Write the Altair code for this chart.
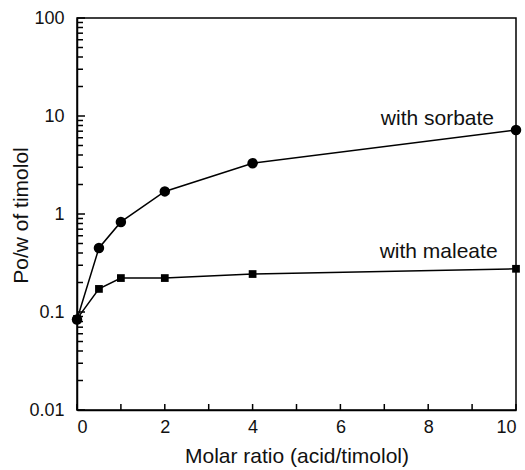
import altair as alt
import pandas as pd
import math

# Data
ratio = [0, 0.5, 1, 2, 4, 10]
sorbate = [0.084, 0.45, 0.83, 1.7, 3.3, 7.2]
maleate = [0.085, 0.172, 0.222, 0.222, 0.244, 0.276]

x_tick_labels = [0, 2, 4, 6, 8, 10]
y_tick_labels = [0.01, 0.1, 1, 10, 100]
x_minor = list(range(0, 11))
y_minor = [m * d for d in [0.01, 0.1, 1, 10] for m in range(1, 10)] + [100]

ann_text = ["with sorbate", "with maleate"]
ann_x = [9.5, 9.58]
ann_y = [9.3, 0.41]

W, H = 439, 392
FONT = "Liberation Sans"
TXT = "#111"

df_s = pd.DataFrame({"x": ratio, "y": sorbate})
df_m = pd.DataFrame({"x": ratio, "y": maleate})

xs = alt.Scale(domain=[0, 10], nice=False, zero=False)
ys = alt.Scale(type="log", domain=[0.01, 100], nice=False)

x_axis = alt.Axis(values=x_tick_labels, ticks=False, grid=False, domainColor="black",
                  domainWidth=1.5, labelFont=FONT, labelFontSize=18, labelColor=TXT,
                  labelPadding=8, title="Molar ratio (acid/timolol)", titleFont=FONT,
                  titleFontSize=21, titleFontWeight="normal", titleColor=TXT,
                  titlePadding=9)
y_axis = alt.Axis(values=y_tick_labels, format="~g", ticks=False, grid=False,
                  domainColor="black", domainWidth=1.5, labelFont=FONT, labelFontSize=18,
                  labelColor=TXT, labelPadding=13, title="Po/w of timolol",
                  titleFont=FONT, titleFontSize=21, titleFontWeight="normal",
                  titleColor=TXT, titleX=-46, titleY=H / 2 + 1)

X = alt.X("x:Q", scale=xs, axis=x_axis)
Y = alt.Y("y:Q", scale=ys, axis=y_axis)

line_s = alt.Chart(df_s).mark_line(color="black", strokeWidth=1.5).encode(x=X, y=Y)
pts_s = alt.Chart(df_s).mark_point(shape="circle", filled=True, color="black",
                                   opacity=1, size=110).encode(x=X, y=Y)
line_m = alt.Chart(df_m).mark_line(color="black", strokeWidth=1.5).encode(x=X, y=Y)
pts_m = alt.Chart(df_m).mark_point(shape="square", filled=True, color="black",
                                   opacity=1, size=60).encode(x=X, y=Y)

# inward ticks
xt = pd.DataFrame({"x": x_minor})
x_ticks = alt.Chart(xt).mark_rule(color="black", strokeWidth=1.5).encode(
    x=alt.X("x:Q", scale=xs), y=alt.value(H), y2=alt.value(H - 6))

yt = pd.DataFrame({"y": y_minor,
                   "major": [abs(round(math.log10(v)) - math.log10(v)) < 1e-9 for v in y_minor]})
y_ticks_minor = alt.Chart(yt).transform_filter("!datum.major").mark_rule(
    color="black", strokeWidth=1.5).encode(
    y=alt.Y("y:Q", scale=ys), x=alt.value(0), x2=alt.value(6))
y_ticks_major = alt.Chart(yt).transform_filter("datum.major").mark_rule(
    color="black", strokeWidth=1.5).encode(
    y=alt.Y("y:Q", scale=ys), x=alt.value(0), x2=alt.value(8))

ann = pd.DataFrame({"t": ann_text, "x": ann_x, "y": ann_y})
labels = alt.Chart(ann).mark_text(font=FONT, fontSize=21, align="right",
                                  baseline="middle", color=TXT).encode(
    x=alt.X("x:Q", scale=xs), y=alt.Y("y:Q", scale=ys), text="t:N")

chart = alt.layer(x_ticks, y_ticks_minor, y_ticks_major, line_s, line_m, pts_s, pts_m,
                  labels).properties(
    width=W, height=H,
    autosize=alt.AutoSizeParams(type="none"),
    padding={"left": 77, "top": 18, "right": 9, "bottom": 60},
    background="white",
).configure_view(stroke="black", strokeWidth=1.5)

chart.save("out.html", embed_options={"renderer": "svg", "actions": False})
